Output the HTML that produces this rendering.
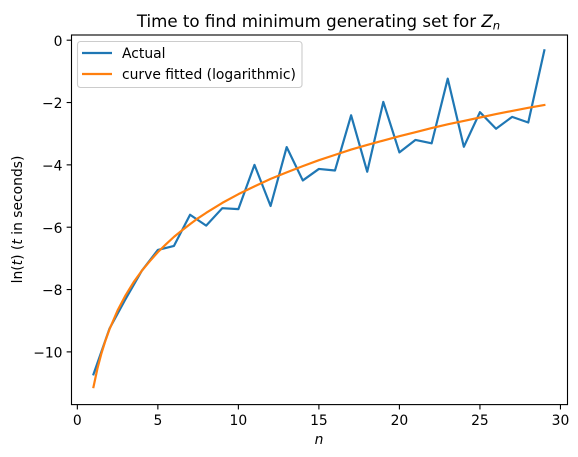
<!DOCTYPE html>
<html lang="en">
<head>
<meta charset="utf-8">
<title>Time to find minimum generating set for Zn</title>
<style>
html,body{margin:0;padding:0;background:#fff;width:578px;height:457px;overflow:hidden}
svg{display:block;position:absolute;left:0;top:0}
text{font-family:"DejaVu Sans","Liberation Sans",sans-serif;fill:#000}
</style>
</head>
<body>
<svg id="chart" xmlns="http://www.w3.org/2000/svg" width="578" height="457" viewBox="0 0 578 457">
  <text x="318.5" y="27" font-size="16.67" text-anchor="middle">Time to find minimum generating set for <tspan font-style="italic">Z</tspan><tspan font-style="italic" font-size="11.67" dy="2.5">n</tspan></text>
  <g id="ticks"></g>
  <clipPath id="plot-clip"><rect x="71.5" y="35" width="496" height="369.6"></rect></clipPath>
  <g id="series" clip-path="url(#plot-clip)"></g>
  <rect x="71.5" y="35" width="496" height="369.6" fill="none" stroke="#000" stroke-width="1.11"></rect>
  <text x="319" y="444" font-size="13.89" font-style="italic" text-anchor="middle">n</text>
  <text transform="translate(22,219.5) rotate(-90)" font-size="13.89" text-anchor="middle">ln(<tspan font-style="italic">t</tspan>) (<tspan font-style="italic">t</tspan> in seconds)</text>
  <g>
    <rect x="77.5" y="41.5" width="224.5" height="46" rx="3" ry="3" fill="#fff" fill-opacity="0.8" stroke="#ccc" stroke-width="1.11"></rect>
    <line x1="82" y1="53" x2="112" y2="53" stroke="#1f77b4" stroke-width="2.2"></line>
    <text x="122" y="58" font-size="13.89">Actual</text>
    <line x1="82" y1="74" x2="112" y2="74" stroke="#ff7f0e" stroke-width="2.2"></line>
    <text x="122" y="79" font-size="13.89">curve fitted (logarithmic)</text>
  </g>
</svg>
<script>
const nValues = [1,2,3,4,5,6,7,8,9,10,11,12,13,14,15,16,17,18,19,20,21,22,23,24,25,26,27,28,29];
const actualValues = [-10.72,-9.25,-8.3,-7.4,-6.73,-6.6,-5.6,-5.95,-5.39,-5.42,-4.0,-5.32,-3.43,-4.5,-4.13,-4.18,-2.41,-4.22,-1.98,-3.6,-3.2,-3.31,-1.235,-3.42,-2.31,-2.84,-2.46,-2.64,-0.325];
const fittedN = [1,1.25,1.5,1.75,2,2.5,3,3.5,4,4.5,5,5.5,6,6.5,7,7.5,8,9,10,11,12,13,14,15,16,17,18,19,20,21,22,23,24,25,26,27,28,29];
const fittedValues = [-11.13,-10.53,-10.04,-9.63,-9.27,-8.67,-8.18,-7.76,-7.4,-7.09,-6.8,-6.55,-6.31,-6.1,-5.9,-5.71,-5.54,-5.22,-4.94,-4.69,-4.45,-4.24,-4.04,-3.85,-3.68,-3.51,-3.36,-3.22,-3.08,-2.95,-2.82,-2.7,-2.59,-2.48,-2.37,-2.27,-2.17,-2.08];
const xTickValues = [0,5,10,15,20,25,30];
const yTickValues = [0,-2,-4,-6,-8,-10];

const SVG_NS = 'http://www.w3.org/2000/svg';
const plot = {left: 70.9, top: 34.3, width: 496, height: 369.6};
const frameBottom = 404.6;
const frameLeft = 71.5;
const xDomain = [-0.4, 30.4];
const yDomain = [-11.669, 0.189];

function xScale(v) {
  return plot.left + (v - xDomain[0]) / (xDomain[1] - xDomain[0]) * plot.width;
}
function yScale(v) {
  return plot.top + (yDomain[1] - v) / (yDomain[1] - yDomain[0]) * plot.height;
}
function make(tag, attrs) {
  const el = document.createElementNS(SVG_NS, tag);
  Object.keys(attrs).forEach(function (k) { el.setAttribute(k, attrs[k]); });
  return el;
}

const tickGroup = document.getElementById('ticks');
xTickValues.forEach(function (v) {
  const px = xScale(v);
  const mark = make('line', {x1: px, x2: px, y1: frameBottom, y2: frameBottom + 4.86, stroke: '#000', 'stroke-width': 1.11});
  
  
  tickGroup.appendChild(mark);
  const label = make('text', {x: px, y: frameBottom + 20.5, 'font-size': 13.89, 'text-anchor': 'middle'});
  
  
  label.textContent = String(v);
  tickGroup.appendChild(label);
});
yTickValues.forEach(function (v) {
  const py = yScale(v);
  const mark = make('line', {x1: frameLeft - 4.86, x2: frameLeft, y1: py, y2: py, stroke: '#000', 'stroke-width': 1.11});
  
  
  tickGroup.appendChild(mark);
  const label = make('text', {x: frameLeft - 9, y: py + 5.7, 'font-size': 13.89, 'text-anchor': 'end'});
  
  
  label.textContent = v < 0 ? '\u2212' + Math.abs(v) : String(v);
  tickGroup.appendChild(label);
});

function pointsFor(xs, values) {
  return values.map(function (v, i) {
    return xScale(xs[i]).toFixed(2) + ',' + yScale(v).toFixed(2);
  }).join(' ');
}
const seriesGroup = document.getElementById('series');
const actualLine = make('polyline', {points: pointsFor(nValues, actualValues), fill: 'none', stroke: '#1f77b4', 'stroke-width': 2.2, 'stroke-linejoin': 'round', 'stroke-linecap': 'square'});


seriesGroup.appendChild(actualLine);
const fittedLine = make('polyline', {points: pointsFor(fittedN, fittedValues), fill: 'none', stroke: '#ff7f0e', 'stroke-width': 2.2, 'stroke-linejoin': 'round', 'stroke-linecap': 'square'});


seriesGroup.appendChild(fittedLine);
</script>
</body>
</html>
